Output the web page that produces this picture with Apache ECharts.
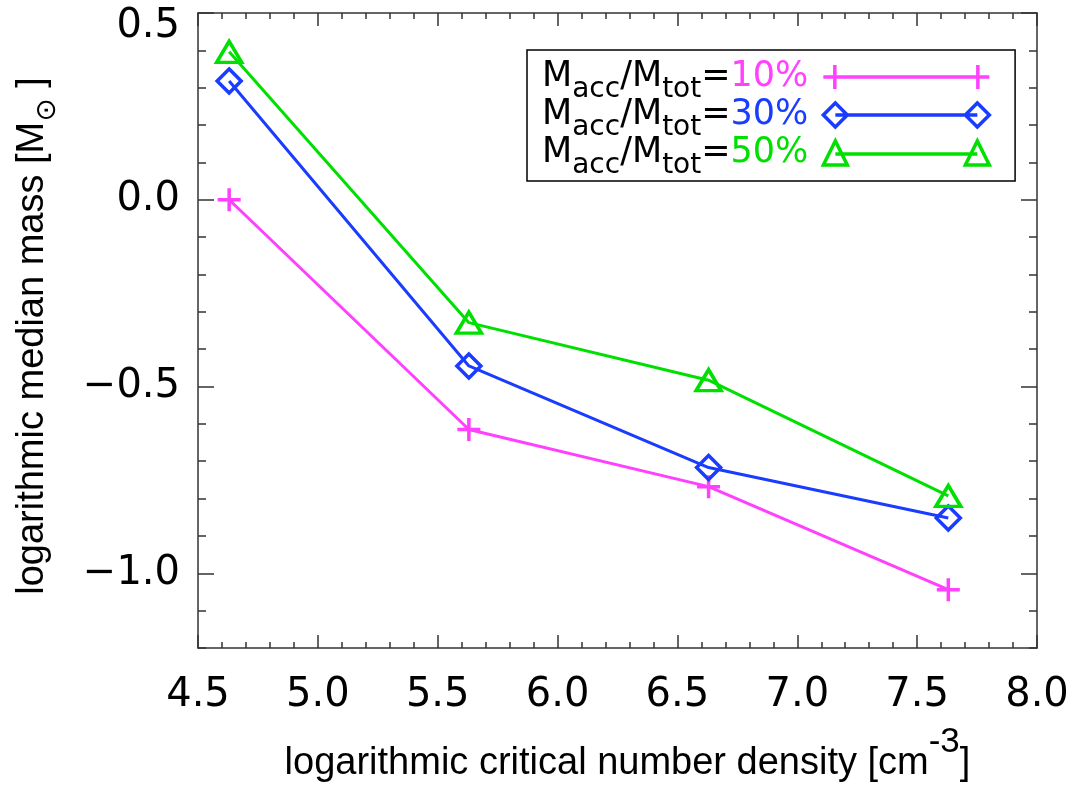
<!DOCTYPE html>
<html>
<head>
<meta charset="utf-8">
<script src="https://cdn.jsdelivr.net/npm/echarts@6/dist/echarts.min.js"></script>
<style>
html,body{margin:0;padding:0;background:#fff;}
#chart{width:1073px;height:786px;}
</style>
</head>
<body>
<div id="chart"></div>
<script>
// ---- data ----
const densityValues = [4.63, 5.63, 6.63, 7.63];
const mass10 = [0.0, -0.615, -0.768, -1.044];
const mass30 = [0.318, -0.445, -0.717, -0.852];
const mass50 = [0.396, -0.329, -0.483, -0.793];
const seriesNames = ['10%', '30%', '50%'];
const yMajorTicks = [-1.0, -0.5, 0.0, 0.5];
const xTitle = 'logarithmic critical number density [cm{sup|-3}]';
const yTitle = 'logarithmic median mass [M{sun|\u2299}{br| ]}';

const colors = ['#ff40ff', '#1a3cff', '#00e000'];
const axisColor = '#333';
const tickFont = 'DejaVu Sans';
const titleFont = 'Liberation Sans';

const plusSym = 'path://M0,-1L0,1M-1,0L1,0';
const diamondSym = 'path://M0,-1L1,0L0,1L-1,0Z';
const triSym = 'path://M0,0L1,1.7L-1,1.7Z';

// legend icons (line with markers at both ends)
const plusIcon = 'path://M0,12L166,12M11.5,0L11.5,24M154.5,0L154.5,24';
const diamondIcon = 'path://M0,12L12,0L24,12L12,24ZM142,12L154,0L166,12L154,24ZM12,12L154,12';
const triIcon = 'path://M0,24L12,0L24,24ZM142,24L154,0L166,24ZM12,13L154,13';

const chart = echarts.init(document.getElementById('chart'), null, {renderer: 'canvas'});

function pts(arr) { return densityValues.map((x, i) => [x, arr[i]]); }

function mkSeries(name, arr, color, sym, size) {
  return {
    name: name, type: 'line', data: pts(arr),
    xAxisIndex: 0, yAxisIndex: 0,
    symbol: sym, symbolSize: size, symbolKeepAspect: false,
    showSymbol: true,
    lineStyle: {color: color, width: 3},
    itemStyle: {color: 'rgba(0,0,0,0)', borderColor: color, borderWidth: 3.5},
    emphasis: {disabled: true},
    z: 3
  };
}

const xBase = {
  type: 'value', min: 4.5, max: 8.0, interval: 0.5, gridIndex: 0,
  axisLine: {show: true, onZero: false, lineStyle: {color: axisColor, width: 1.5}},
  axisTick: {show: true, inside: true, length: 13, lineStyle: {color: axisColor, width: 1.5}},
  minorTick: {show: true, splitNumber: 5, length: 6, lineStyle: {color: axisColor, width: 1.5}},
  splitLine: {show: false}, minorSplitLine: {show: false}
};

const yMinor = {
  type: 'value', min: -1.2, max: 0.5, interval: 0.1, gridIndex: 0,
  axisLine: {show: true, onZero: false, lineStyle: {color: axisColor, width: 1.5}},
  axisTick: {show: true, inside: true, length: 8, lineStyle: {color: axisColor, width: 1.5}},
  axisLabel: {show: false},
  splitLine: {show: false}
};

function yLabelFmt(v) {
  const s = (v < 0 ? '\u2212' : '') + Math.abs(v).toFixed(1);
  return Math.abs(v - 0.5) < 1e-9 ? '{top|' + s + '}' : s;
}

const yMajor = {
  type: 'value', min: -1.2, max: 0.5, gridIndex: 0,
  axisLine: {show: false, onZero: false},
  axisTick: {show: true, inside: true, length: 16, customValues: yMajorTicks, lineStyle: {color: axisColor, width: 1.5}},
  splitLine: {show: false}
};

const option = {
  animation: false,
  backgroundColor: '#fff',
  grid: {left: 198, right: 36, top: 13, bottom: 138, containLabel: false, outerBoundsMode: 'none'},
  graphic: [{
    type: 'text', x: 33, y: 336, rotation: Math.PI / 2, silent: true,
    style: {
      text: yTitle, fontFamily: titleFont, fontSize: 38, fill: '#000', lineHeight: 46,
      align: 'center', verticalAlign: 'middle',
      rich: {
        sun: {fontFamily: 'DejaVu Sans', fontSize: 28, padding: [30, 0, 0, 0], fill: '#000'},
        br: {fontFamily: titleFont, fontSize: 38, fill: '#000'}
      }
    }
  }],
  xAxis: [
    Object.assign({}, xBase, {
      position: 'bottom',
      axisLabel: {show: true, margin: 28, fontFamily: tickFont, fontSize: 40, color: '#000',
        formatter: v => v.toFixed(1)},
      name: xTitle, nameLocation: 'middle', nameGap: 91,
      nameTruncate: {maxWidth: 5000},
      nameTextStyle: {fontFamily: titleFont, fontSize: 38, color: '#000', lineHeight: 50, padding: [0, 0, 0, 20],
        rich: {sup: {fontFamily: titleFont, fontSize: 35, height: 6, lineHeight: 6, verticalAlign: 'top', color: '#000'}}}
    }),
    Object.assign({}, xBase, {position: 'top', axisLabel: {show: false}})
  ],
  yAxis: [
    Object.assign({}, yMinor, {position: 'left'}),
    Object.assign({}, yMajor, {
      position: 'left',
      axisLabel: {show: true, customValues: yMajorTicks, margin: 18, fontFamily: tickFont, fontSize: 40, color: '#000',
        formatter: yLabelFmt,
        rich: {top: {fontFamily: tickFont, fontSize: 40, color: '#000', padding: [28, 0, 0, 0]}}}
    }),
    Object.assign({}, yMinor, {position: 'right'}),
    Object.assign({}, yMajor, {position: 'right', axisLabel: {show: false}})
  ],
  legend: {
    show: true, orient: 'vertical', left: 527, top: 50,
    padding: [9, 24, 1, 15],
    itemWidth: 166, itemHeight: 24, itemGap: -7, align: 'right',
    borderColor: '#000', borderWidth: 1.5, backgroundColor: '#fff',
    selectedMode: false,
    formatter: function (name) {
      const key = {'10%': 'p1', '30%': 'p3', '50%': 'p5'}[name];
      return 'M{s|acc}/M{s|tot}={' + key + '|' + name + '}';
    },
    textStyle: {
      fontFamily: tickFont, fontSize: 35, color: '#000', lineHeight: 36,
      rich: {
        s: {fontFamily: tickFont, fontSize: 28, height: 10, lineHeight: 10, verticalAlign: 'bottom', color: '#000'},
        p1: {fontFamily: tickFont, fontSize: 35, lineHeight: 36, color: colors[0], padding: [0, 10, 0, 0]},
        p3: {fontFamily: tickFont, fontSize: 35, lineHeight: 36, color: colors[1], padding: [0, 10, 0, 0]},
        p5: {fontFamily: tickFont, fontSize: 35, lineHeight: 36, color: colors[2], padding: [0, 10, 0, 0]}
      }
    },
    data: [
      {name: seriesNames[0], icon: plusIcon, itemStyle: {color: 'rgba(0,0,0,0)', borderColor: colors[0], borderWidth: 3.5}},
      {name: seriesNames[1], icon: diamondIcon, itemStyle: {color: 'rgba(0,0,0,0)', borderColor: colors[1], borderWidth: 3.5}},
      {name: seriesNames[2], icon: triIcon, itemStyle: {color: 'rgba(0,0,0,0)', borderColor: colors[2], borderWidth: 3.5}}
    ]
  },
  series: [
    mkSeries(seriesNames[0], mass10, colors[0], plusSym, 23),
    mkSeries(seriesNames[1], mass30, colors[1], diamondSym, 24),
    mkSeries(seriesNames[2], mass50, colors[2], triSym, [25, 21])
  ]
};

chart.setOption(option);
</script>
</body>
</html>
